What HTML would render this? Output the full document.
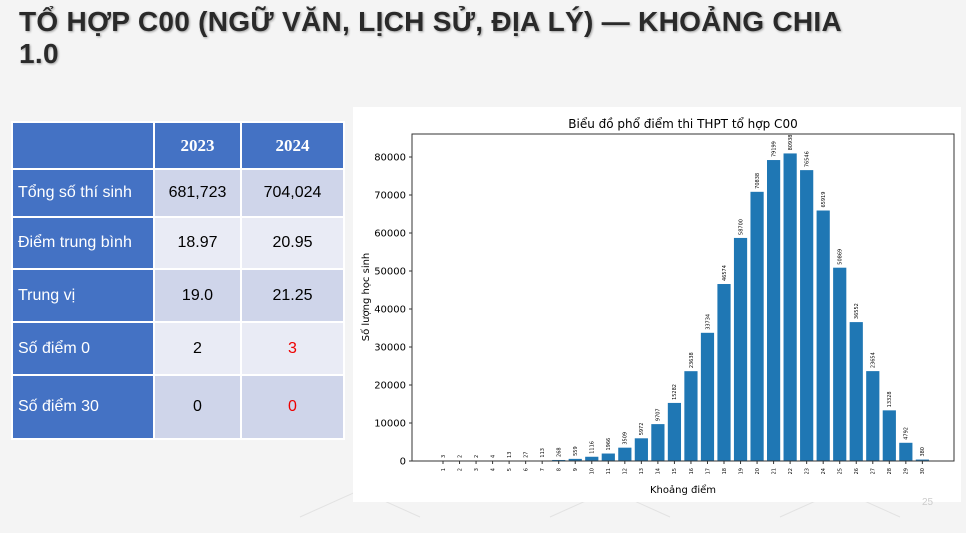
<!DOCTYPE html>
<html><head><meta charset="utf-8"><style>
body{margin:0;width:966px;height:533px;background:#f4f4f4;overflow:hidden;position:relative;font-family:"Liberation Sans",sans-serif}
h1{position:absolute;left:19px;top:6px;margin:0;font-size:28px;line-height:32px;font-weight:bold;color:#2a2a2a;text-shadow:1px 1px 2px rgba(0,0,0,.35);letter-spacing:0.3px}
.t{position:absolute;left:11px;top:121px;border-collapse:collapse}
.t td{border:2px solid #fff;padding:0;font-size:16px}
.h{background:#4472c4;color:#fff}
.hd{font-family:"Liberation Serif",serif;font-weight:bold;font-size:17px!important;text-align:center}
.l{padding-left:5px!important}
.a{background:#cfd5ea;text-align:center;color:#000}
.b{background:#e9ebf5;text-align:center;color:#000}
.r{color:#e00}
svg{position:absolute;left:0;top:0}
</style></head><body>
<h1>TỔ HỢP C00 (NGỮ VĂN, LỊCH SỬ, ĐỊA LÝ) — KHOẢNG CHIA<br>1.0</h1>
<table class="t">
<tr style="height:47px"><td class="h" style="width:140px"></td><td class="h hd" style="width:85px">2023</td><td class="h hd" style="width:101px">2024</td></tr>
<tr style="height:48px"><td class="h l">Tổng số thí sinh</td><td class="a">681,723</td><td class="a">704,024</td></tr>
<tr style="height:52px"><td class="h l">Điểm trung bình</td><td class="b">18.97</td><td class="b">20.95</td></tr>
<tr style="height:53px"><td class="h l">Trung vị</td><td class="a">19.0</td><td class="a">21.25</td></tr>
<tr style="height:53px"><td class="h l">Số điểm 0</td><td class="b">2</td><td class="b r">3</td></tr>
<tr style="height:64px"><td class="h l">Số điểm 30</td><td class="a">0</td><td class="a r">0</td></tr>
</table>
<svg width="966" height="533" id="s">
<g stroke="#e2e2e2" fill="none"><path d="M300 517 L360 490 L420 517 M550 517 L610 490 L670 517 M780 517 L840 490 L900 517"/></g>
<rect x="353" y="107" width="608" height="395" fill="#fff"/>
<text x="683" y="128" font-size="12" text-anchor="middle" font-family="DejaVu Sans,sans-serif">Biểu đồ phổ điểm thi THPT tổ hợp C00</text>
<text x="683" y="493" font-size="10" text-anchor="middle" font-family="DejaVu Sans,sans-serif">Khoảng điểm</text>
<text transform="translate(369,297) rotate(-90)" font-size="10" text-anchor="middle" font-family="DejaVu Sans,sans-serif">Số lượng học sinh</text>
<g id="g"></g>
<rect x="412" y="134" width="542" height="327" fill="none" stroke="#333" stroke-width="1"/>
<text x="922" y="505" font-size="10" fill="#ccc">25</text>
</svg>
<script>
var v=[3,2,2,4,13,27,113,268,559,1116,1966,3509,5972,9707,15282,23638,33734,46574,58700,70838,79199,80938,76546,65919,50869,36552,23654,13328,4792,380];
var h='';
for(var i=0;i<30;i++){var cx=443+i*16.53,y=461-v[i]*0.0038;
h+='<rect x="'+(cx-6.6)+'" y="'+y+'" width="13.2" height="'+(461-y)+'" fill="#1f77b4"/>';
h+='<text transform="translate('+(cx+1.8)+','+(y-3)+') rotate(-90)" font-size="5" font-family="DejaVu Sans,sans-serif">'+v[i]+'</text>';
h+='<line x1="'+cx+'" y1="461" x2="'+cx+'" y2="464" stroke="#333"/>';
h+='<text transform="translate('+(cx+1.8)+',468) rotate(-90)" font-size="5" text-anchor="end" font-family="DejaVu Sans,sans-serif">'+(i+1)+'</text>';}
for(var k=0;k<=8;k++){var y=461-k*38;
h+='<line x1="409" y1="'+y+'" x2="412" y2="'+y+'" stroke="#333"/>';
h+='<text x="406" y="'+(y+3.5)+'" font-size="10" text-anchor="end" font-family="DejaVu Sans,sans-serif">'+(k*10000)+'</text>';}
document.getElementById('g').innerHTML=h;
</script>
</body></html>
